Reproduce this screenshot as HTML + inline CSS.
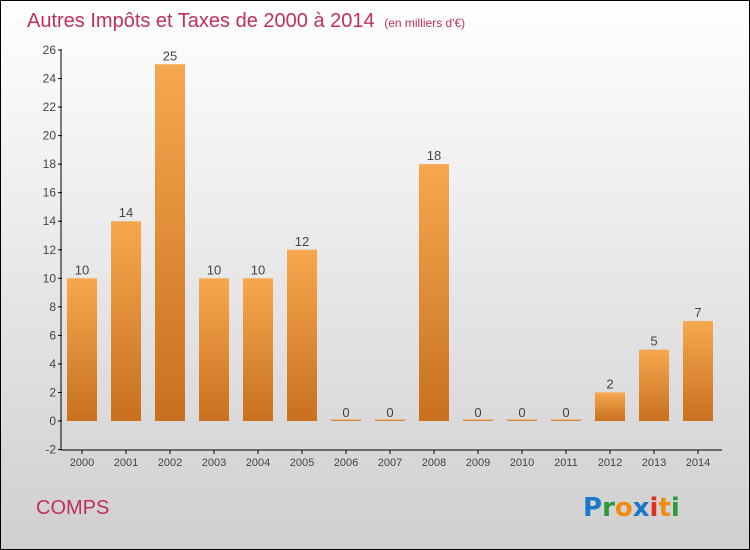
<!DOCTYPE html>
<html><head><meta charset="utf-8"><style>
html,body{margin:0;padding:0}
body{width:750px;height:550px;overflow:hidden;font-family:"Liberation Sans",sans-serif}
#wrap{position:absolute;left:0;top:0;width:748px;height:548px;border:1px solid #000;background:linear-gradient(#ffffff,#cfcfcf)}
</style></head><body>
<div id="wrap">
<svg id="svg" width="748" height="548" viewBox="1 1 748 548" style="position:absolute;left:0;top:0">
<defs><linearGradient id="bg" x1="0" y1="0" x2="0" y2="1"><stop offset="0" stop-color="#f7a750"/><stop offset="1" stop-color="#c8701f"/></linearGradient></defs>
<text x="27" y="27" font-size="20" fill="#c0305a">Autres Impôts et Taxes de 2000 à 2014 <tspan font-size="12" dx="4">(en milliers d'€)</tspan></text>
<g id="yaxis"></g>
<g id="xaxis"></g>
<g id="bars"></g>
<text x="36" y="514" font-size="20" fill="#c0305a">COMPS</text>
<g font-size="26" font-weight="bold" font-family="'DejaVu Sans',sans-serif">
<text x="583" y="516"><tspan fill="#1a78c8">P</tspan><tspan fill="#2a9a3a">r</tspan><tspan fill="#f08a10">o</tspan><tspan fill="#1a78c8">x</tspan><tspan fill="#e03020">i</tspan><tspan fill="#f08a10">t</tspan><tspan fill="#2a9a3a">i</tspan></text>
</g>
</svg></div>
<script>
const years=["2000","2001","2002","2003","2004","2005","2006","2007","2008","2009","2010","2011","2012","2013","2014"];
const values=[10,14,25,10,10,12,0,0,18,0,0,0,2,5,7];
const yTicks=[-2,0,2,4,6,8,10,12,14,16,18,20,22,24,26];
const NS="http://www.w3.org/2000/svg";
const y=v=>421-(v)*14.27;
const x=i=>82+i*44;
function mk(t,a,p){const e=document.createElementNS(NS,t);for(const k in a)e.setAttribute(k,a[k]);p.appendChild(e);return e;}
const ya=document.getElementById('yaxis'),xa=document.getElementById('xaxis'),bs=document.getElementById('bars');
mk('line',{x1:61,y1:50,x2:61,y2:450,stroke:'#000','stroke-width':1},ya);
mk('line',{x1:61,y1:450,x2:722,y2:450,stroke:'#000','stroke-width':1},xa);
yTicks.forEach(v=>{
 const l=mk('line',{x1:58,y1:y(v),x2:62,y2:y(v),stroke:'#000'},ya);
 
 
 const t=mk('text',{x:56,y:y(v)+4,'text-anchor':'end','font-size':12,fill:'#444'},ya);t.textContent=v;
 
 
});
years.forEach((yr,i)=>{
 mk('line',{x1:x(i),y1:450,x2:x(i),y2:454,stroke:'#000'},xa);
 const t=mk('text',{x:x(i),y:466,'text-anchor':'middle','font-size':11,fill:'#444'},xa);t.textContent=yr;
 
 
 const v=values[i];const h=Math.max(y(0)-y(v),1.5);
 const r=mk('rect',{x:x(i)-15,y:y(0)-h,width:30,height:h,fill:'url(#bg)'},bs);
 
 
 const lb=mk('text',{x:x(i),y:y(v)-4,'text-anchor':'middle','font-size':13,fill:'#444'},bs);lb.textContent=v;
 
 
});
</script>
</body></html>
